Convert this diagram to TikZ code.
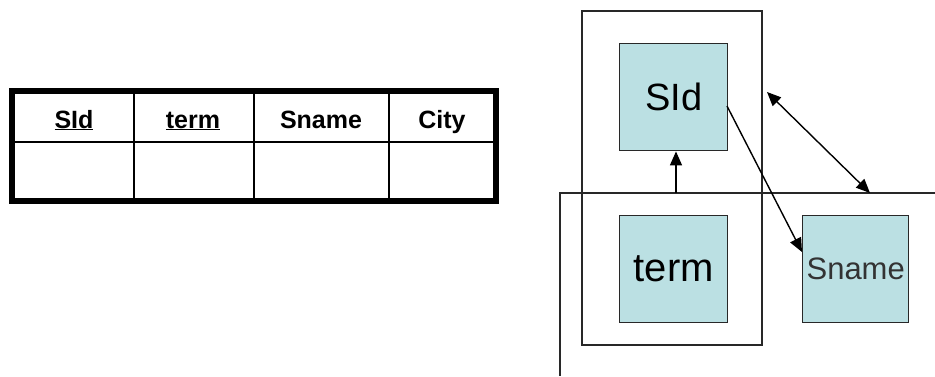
\documentclass[tikz,border=0pt]{standalone}
\usepackage{fontspec}
\setmainfont{Liberation Sans}
\usetikzlibrary{arrows.meta}
\definecolor{boxfill}{RGB}{187,224,227}
\definecolor{linecol}{RGB}{40,40,40}
\tikzset{
  attrbox/.style={draw=linecol, line width=1.4pt, fill=boxfill, minimum width=108pt, minimum height=107pt, inner sep=0pt, anchor=north west},
  grp/.style={draw=linecol, line width=1.4pt},
  arr/.style={draw=black, line width=1.4pt, -{Triangle[length=14pt,width=12pt]}},
  darr/.style={draw=black, line width=1.4pt, {Triangle[length=14pt,width=12pt]}-{Triangle[length=14pt,width=12pt]}},
  hdr/.style={font=\fontsize{25}{28}\selectfont\bfseries, inner sep=0pt, anchor=base},
  tbl/.style={draw=black, line width=2pt},
}
\begin{document}
\begin{tikzpicture}[x=1pt,y=-1pt]
\useasboundingbox (0,0) rectangle (935,376);
% table
\draw[tbl] (134,91) -- (134,201) (254,91) -- (254,201) (389,91) -- (389,201);
\draw[tbl] (12,142) -- (496,142);
\draw[draw=black, line width=6pt] (12,91) rectangle (496,201);
\node[hdr] (hsid) at (74,128) {\underline{SId}};
\node[hdr] (hterm) at (193,128) {\underline{term}};
\node[hdr] (hsname) at (321,128) {Sname};
\node[hdr] (hcity) at (442,128) {City};
% groups
\draw[grp] (582,11) rectangle (762,345);
\draw[grp] (935,193) -- (560,193) -- (560,376);
% attribute boxes
\node[attrbox, font=\fontsize{38}{40}\selectfont] (sid) at (619,43) {SId};
\node[attrbox, font=\fontsize{40}{42}\selectfont] (term) at (619,215) {term};
\node[attrbox, minimum width=106pt, font=\fontsize{31}{33}\selectfont, text=black!80] (sname) at (802,215) {Sname};
% connectors
\coordinate (tstart) at (676,193);
\draw[arr] (tstart) -- (sid.south -| tstart);
\coordinate (sfrom) at (727,106);
\coordinate (sto) at (802,252);
\draw[arr] (sfrom) -- (sto);
\coordinate (da) at (767,92);
\coordinate (db) at (870,193);
\draw[darr] (da) -- (db);
\end{tikzpicture}
\end{document}
